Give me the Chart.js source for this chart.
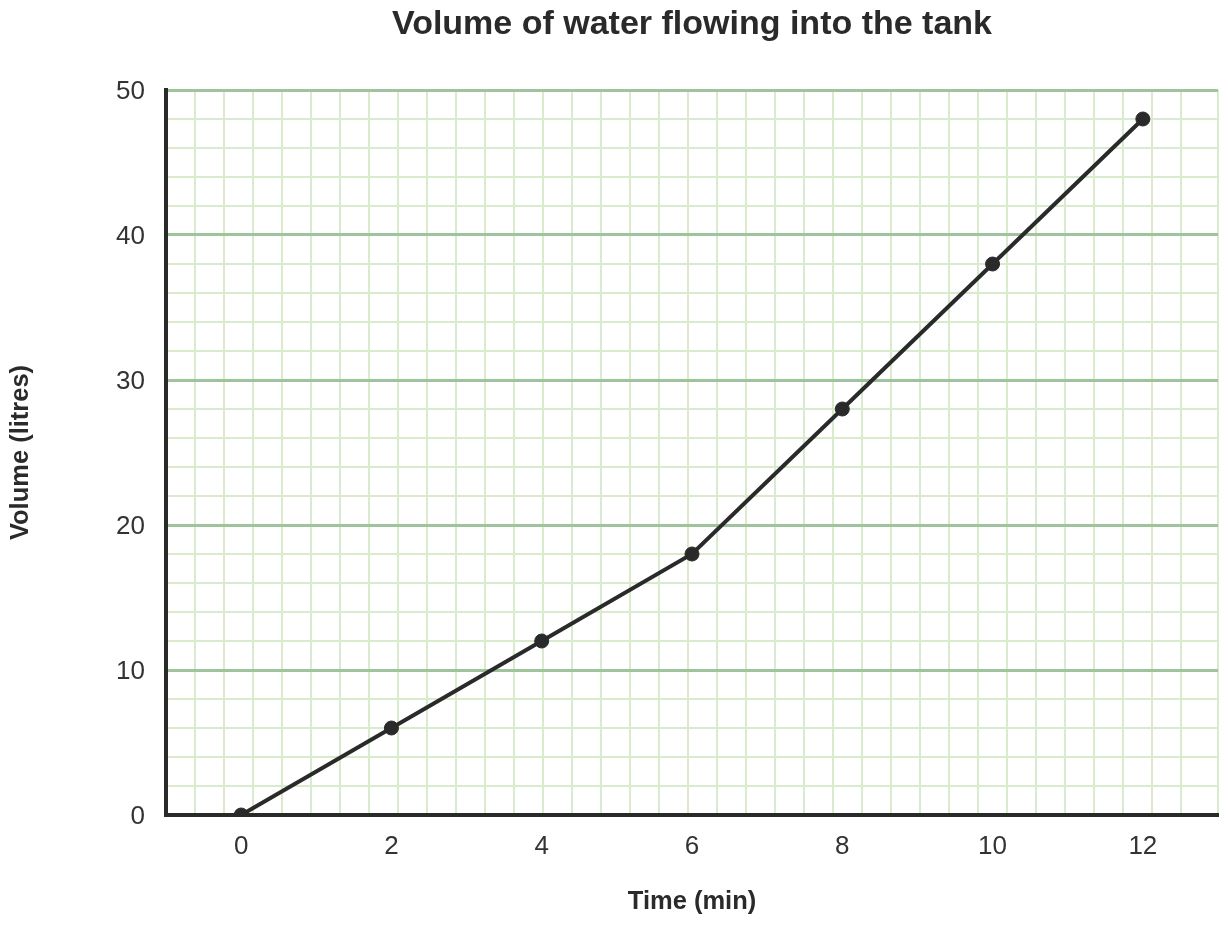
<!DOCTYPE html>
<html>
<head>
<meta charset="utf-8">
<script src="https://cdn.jsdelivr.net/npm/chart.js@4"></script>
<style>
html,body{margin:0;padding:0;background:#fff;}
#wrap{width:1228px;height:926px;position:relative;}
</style>
</head>
<body>
<div id="wrap"><canvas id="c" width="1228" height="926"></canvas></div>
<script>
const chartTitle = 'Volume of water flowing into the tank';
const xTitle = 'Time (min)';
const yTitle = 'Volume (litres)';
const timeMin = [0, 2, 4, 6, 8, 10, 12];
const volumeLitres = [0, 6, 12, 18, 28, 38, 48];
const xTickValues = [0, 2, 4, 6, 8, 10, 12];
const yTickValues = [0, 10, 20, 30, 40, 50];

const ink = '#2a2a2a';
const major = '#9fc49b';
const minor = '#d9eacd';
const FONT = '"Liberation Sans", Arial, sans-serif';

new Chart(document.getElementById('c'), {
  type: 'line',
  data: {
    datasets: [{
      data: timeMin.map((t, i) => ({x: t, y: volumeLitres[i]})),
      borderColor: ink,
      backgroundColor: ink,
      borderWidth: 4,
      pointRadius: 7,
      pointBorderWidth: 1,
      pointBackgroundColor: ink,
      pointBorderColor: ink,
      tension: 0,
      fill: false,
      xAxisID: 'x',
      yAxisID: 'y'
    }]
  },
  options: {
    responsive: false,
    animation: false,
    devicePixelRatio: 1,
    layout: {padding: {left: 0, right: 10, top: 0, bottom: 0}},
    plugins: {
      legend: {display: false},
      tooltip: {enabled: false},
      title: {display: false}
    },
    scales: {
      xg: {
        type: 'linear',
        position: 'top',
        min: 0,
        max: 1052 / 29,
        afterFit: s => { s.height = 90; },
        ticks: {display: false, stepSize: 1},
        grid: {color: minor, lineWidth: 2, drawTicks: false, z: -2},
        border: {display: false},
        title: {display: true, text: chartTitle, color: ink, font: {family: FONT, size: 34, weight: 'bold'}, padding: {top: 4, bottom: 0}}
      },
      x: {
        type: 'linear',
        position: 'bottom',
        min: -1,
        max: 13,
        afterFit: s => { s.height = 111; },
        afterBuildTicks: s => { s.ticks = xTickValues.map(v => ({value: v})); },
        ticks: {color: '#333', font: {family: FONT, size: 26}, padding: 16, maxRotation: 0, autoSkip: false},
        grid: {display: false, drawTicks: false},
        border: {display: true, color: ink, width: 4},
        title: {display: true, text: xTitle, color: ink, font: {family: FONT, size: 25.5, weight: 'bold'}, padding: {top: 0, bottom: 9}}
      },
      y: {
        type: 'linear',
        min: 0,
        max: 50,
        afterFit: s => { s.width = 166; },
        afterBuildTicks: s => {
          const t = [];
          for (let v = 0; v <= 50; v += 2) t.push({value: v});
          s.ticks = t;
        },
        ticks: {
          color: '#333',
          font: {family: FONT, size: 26},
          padding: 21,
          labelOffset: 2,
          autoSkip: false,
          callback: v => (yTickValues.includes(v) ? String(v) : '')
        },
        grid: {
          drawTicks: false,
          color: ctx => (ctx.tick && ctx.tick.value % 10 === 0 ? major : minor),
          lineWidth: ctx => (ctx.tick && ctx.tick.value % 10 === 0 ? 3 : 2)
        },
        border: {display: true, color: ink, width: 4},
        title: {display: true, text: yTitle, color: ink, font: {family: FONT, size: 25.5, weight: 'bold'}, padding: {top: 6, bottom: 0}}
      }
    }
  }
});
</script>
</body>
</html>
